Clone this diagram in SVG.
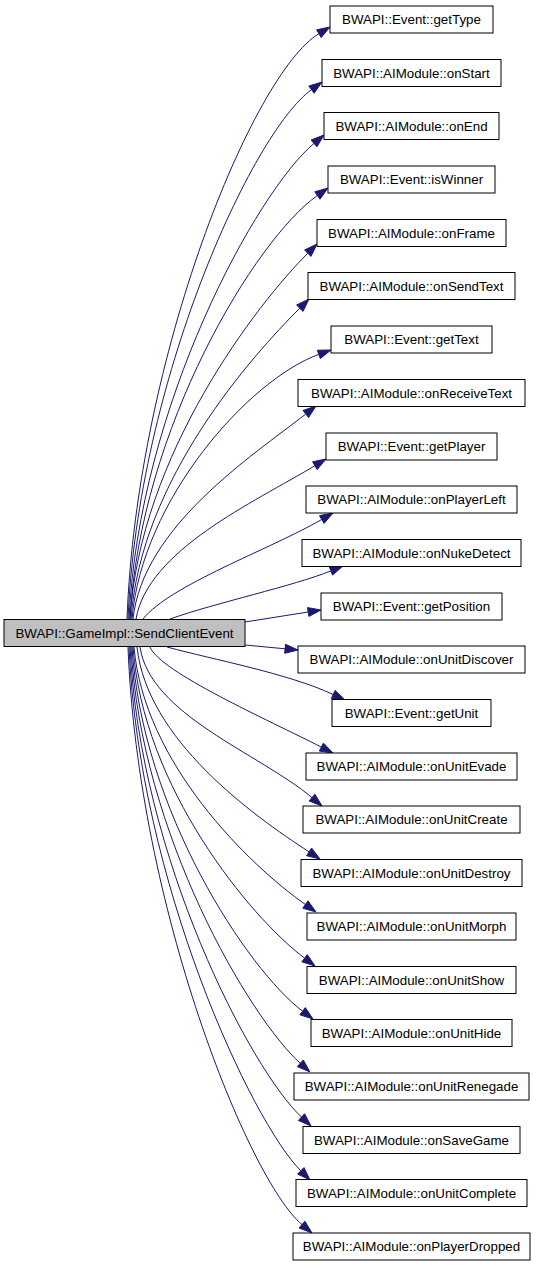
<svg xmlns="http://www.w3.org/2000/svg" width="536" height="1267" viewBox="0 0 536 1267">
<style>
.n rect{fill:#ffffff;stroke:#000000;stroke-width:1}
.src rect{fill:#bfbfbf;stroke:#000000;stroke-width:1}
text{font-family:"Liberation Sans",Arial,sans-serif;font-size:13.33px;fill:#000000;text-anchor:middle}
.e path{fill:none;stroke:#191970;stroke-width:1}
.e polygon{fill:#191970;stroke:#191970;stroke-width:1}
</style>
<rect width="536" height="1267" fill="#ffffff"/>
<g id="connectors" class="e">
<path d="M127,619 C137,355.6 253.1,73.3 318.9,33.7"/><polygon points="330,27 321.2,37.6 316.6,29.8"/>
<path d="M128,619 C138,380.8 252.1,132.8 311.5,89.6"/><polygon points="322,82 314.1,93.2 308.9,86"/>
<path d="M129,619 C139,405 257.3,191 314,143.4"/><polygon points="324,135 316.9,146.8 311.1,140"/>
<path d="M130,619 C140,428.4 256,238.6 317.4,195.5"/><polygon points="328,188 320,199.2 314.8,191.8"/>
<path d="M130,619 C140,454.4 257.5,303.5 307.8,253.2"/><polygon points="317,244 311,256.4 304.6,250"/>
<path d="M131,619 C141,479.1 252.1,355.9 299.8,308.2"/><polygon points="309,299 303,311.4 296.6,305"/>
<path d="M132,619 C142,499.9 248.6,379.9 318.8,354.4"/><polygon points="331,350 320.3,358.6 317.3,350.2"/>
<path d="M133,619 C143,526.8 251.3,456.6 305.8,414"/><polygon points="316,406 308.6,417.5 303,410.5"/>
<path d="M136,619 C148,550 253.5,502.6 314.9,465.7"/><polygon points="326,459 317.2,469.6 312.6,461.8"/>
<path d="M143,619 C170,585 269.7,549.5 321.7,519.5"/><polygon points="333,513 324,523.4 319.5,515.6"/>
<path d="M170,619 C215,603 293.8,585.9 330.9,570.9"/><polygon points="343,566 332.6,575.1 329.2,566.7"/>
<path d="M245,622 L308.2,612"/><polygon points="321,610 308.9,616.4 307.5,607.6"/>
<path d="M245,645 L285.1,648.8"/><polygon points="298,650 284.7,653.3 285.5,644.3"/>
<path d="M167,647 C215,660 287.9,673.4 333.2,694.5"/><polygon points="345,700 331.3,698.6 335.1,690.4"/>
<path d="M150,647 C160,672 268,719.9 321.4,747.1"/><polygon points="333,753 319.4,751.1 323.4,743.1"/>
<path d="M140,647 C150,714.8 259.3,753.4 312,797.6"/><polygon points="322,806 309.1,801 314.9,794.2"/>
<path d="M137,647 C147,739.2 251.4,814.4 309.1,851.9"/><polygon points="320,859 306.6,855.7 311.6,848.1"/>
<path d="M134,647 C144,762.9 249.2,865.1 305.4,904.5"/><polygon points="316,912 302.8,908.2 308,900.8"/>
<path d="M133,647 C143,787 249.8,916.9 304.6,958.2"/><polygon points="315,966 301.9,961.8 307.3,954.6"/>
<path d="M132,647 C142,810.9 248.1,970.1 302.6,1011.2"/><polygon points="313,1019 299.9,1014.8 305.3,1007.6"/>
<path d="M131,647 C141,834.3 250,1018 300.3,1063.3"/><polygon points="310,1072 297.3,1066.6 303.3,1060"/>
<path d="M130,647 C140,858.5 251.4,1070.3 301.5,1117.1"/><polygon points="311,1126 298.4,1120.4 304.6,1113.8"/>
<path d="M129,647 C139,882.7 252.2,1122.2 300.8,1170.8"/><polygon points="310,1180 297.6,1174 304,1167.6"/>
<path d="M128,647 C138,906.9 248.7,1179.9 302,1224.6"/><polygon points="312,1233 299.1,1228 304.9,1221.2"/>
</g>
<g id="src" class="src"><rect x="4" y="619.5" width="241" height="27"/><text x="124.5" y="637.8">BWAPI::GameImpl::SendClientEvent</text></g>
<g id="n0" class="n"><rect x="330" y="6" width="163" height="27"/><text x="411.5" y="24.3">BWAPI::Event::getType</text></g>
<g id="n1" class="n"><rect x="322" y="59.5" width="179" height="27"/><text x="411.5" y="77.8">BWAPI::AIModule::onStart</text></g>
<g id="n2" class="n"><rect x="324" y="112.5" width="175" height="27"/><text x="411.5" y="130.8">BWAPI::AIModule::onEnd</text></g>
<g id="n3" class="n"><rect x="328" y="166" width="167" height="27"/><text x="411.5" y="184.3">BWAPI::Event::isWinner</text></g>
<g id="n4" class="n"><rect x="317" y="219.5" width="189" height="27"/><text x="411.5" y="237.8">BWAPI::AIModule::onFrame</text></g>
<g id="n5" class="n"><rect x="308" y="272.5" width="207" height="27"/><text x="411.5" y="290.8">BWAPI::AIModule::onSendText</text></g>
<g id="n6" class="n"><rect x="331" y="326" width="161" height="27"/><text x="411.5" y="344.3">BWAPI::Event::getText</text></g>
<g id="n7" class="n"><rect x="298" y="379.5" width="227" height="27"/><text x="411.5" y="397.8">BWAPI::AIModule::onReceiveText</text></g>
<g id="n8" class="n"><rect x="326" y="433" width="171" height="27"/><text x="411.5" y="451.3">BWAPI::Event::getPlayer</text></g>
<g id="n9" class="n"><rect x="306" y="486" width="211" height="27"/><text x="411.5" y="504.3">BWAPI::AIModule::onPlayerLeft</text></g>
<g id="n10" class="n"><rect x="302" y="539.5" width="219" height="27"/><text x="411.5" y="557.8">BWAPI::AIModule::onNukeDetect</text></g>
<g id="n11" class="n"><rect x="321" y="593" width="181" height="27"/><text x="411.5" y="611.3">BWAPI::Event::getPosition</text></g>
<g id="n12" class="n"><rect x="298" y="646" width="227" height="27"/><text x="411.5" y="664.3">BWAPI::AIModule::onUnitDiscover</text></g>
<g id="n13" class="n"><rect x="332" y="699.5" width="159" height="27"/><text x="411.5" y="717.8">BWAPI::Event::getUnit</text></g>
<g id="n14" class="n"><rect x="306" y="753" width="211" height="27"/><text x="411.5" y="771.3">BWAPI::AIModule::onUnitEvade</text></g>
<g id="n15" class="n"><rect x="303" y="806" width="217" height="27"/><text x="411.5" y="824.3">BWAPI::AIModule::onUnitCreate</text></g>
<g id="n16" class="n"><rect x="301" y="859.5" width="221" height="27"/><text x="411.5" y="877.8">BWAPI::AIModule::onUnitDestroy</text></g>
<g id="n17" class="n"><rect x="307" y="913" width="209" height="27"/><text x="411.5" y="931.3">BWAPI::AIModule::onUnitMorph</text></g>
<g id="n18" class="n"><rect x="307" y="966.5" width="209" height="27"/><text x="411.5" y="984.8">BWAPI::AIModule::onUnitShow</text></g>
<g id="n19" class="n"><rect x="311" y="1019.5" width="201" height="27"/><text x="411.5" y="1037.8">BWAPI::AIModule::onUnitHide</text></g>
<g id="n20" class="n"><rect x="294" y="1073" width="235" height="27"/><text x="411.5" y="1091.3">BWAPI::AIModule::onUnitRenegade</text></g>
<g id="n21" class="n"><rect x="303" y="1126.5" width="217" height="27"/><text x="411.5" y="1144.8">BWAPI::AIModule::onSaveGame</text></g>
<g id="n22" class="n"><rect x="296" y="1179.5" width="231" height="27"/><text x="411.5" y="1197.8">BWAPI::AIModule::onUnitComplete</text></g>
<g id="n23" class="n"><rect x="293" y="1233" width="237" height="27"/><text x="411.5" y="1251.3">BWAPI::AIModule::onPlayerDropped</text></g>
</svg>
